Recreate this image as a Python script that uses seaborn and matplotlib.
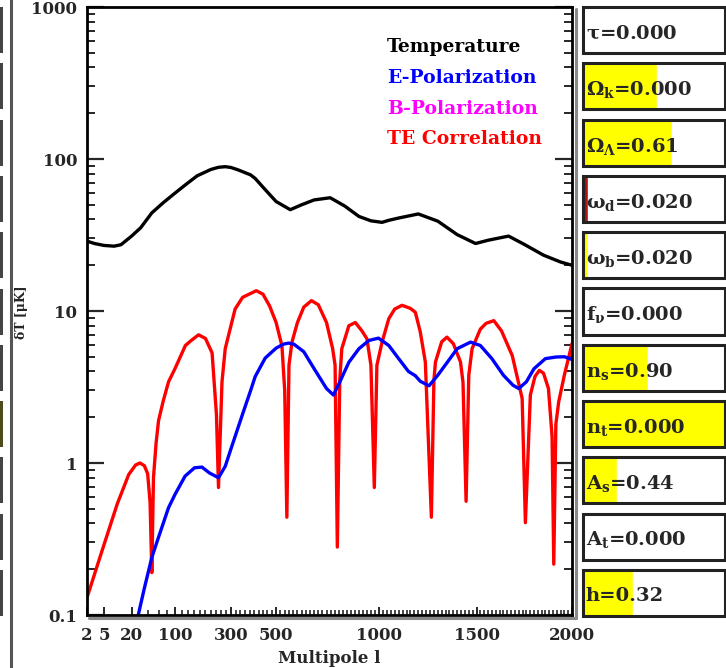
import numpy as np
import matplotlib
matplotlib.use("Agg")
import matplotlib.pyplot as plt
import seaborn as sns
from matplotlib.patches import Rectangle
from matplotlib.lines import Line2D
from matplotlib.ticker import FixedLocator, NullFormatter, LogLocator

# ============================================================
# DATA
# ============================================================

temp_l = [2, 3, 5, 8.5, 12, 20, 30, 47, 70, 100, 131, 170, 220, 250, 277, 300, 330, 385, 405,
          450, 500, 566, 620, 680, 758, 830, 900, 960, 1016, 1050, 1100, 1200, 1300,
          1400, 1495, 1560, 1667, 1750, 1850, 1940, 2000]
temp_v = [28.8, 27.8, 27.0, 26.7, 27.3, 31.1, 35.3, 44.2, 51.5, 59.6, 67.6, 77.5, 85.3, 88.2, 89.0, 88.0, 84.9, 78.6, 74.5,
          62.9, 52.5, 46.4, 50.0, 53.8, 55.6, 49.0, 41.9, 39.2, 38.3, 39.5, 40.9, 43.5, 39.0,
          31.8, 27.8, 29.2, 31.1, 27.4, 23.3, 21.0, 20.0]

epol_l = [27, 35, 47, 60, 83, 100, 130, 161, 187, 215, 250, 277, 300, 350, 385, 405,
          450, 500, 534, 558, 583, 630, 680, 740, 774, 800, 850, 900, 950, 998, 1050,
          1100, 1150, 1185, 1210, 1255, 1300, 1350, 1400, 1469, 1520, 1580, 1640,
          1690, 1720, 1760, 1800, 1860, 1916, 1960, 2000]
epol_v = [0.1, 0.15, 0.239, 0.325, 0.508, 0.62, 0.82, 0.93, 0.94, 0.86, 0.80, 0.95, 1.23, 2.1, 3.0, 3.7,
          4.9, 5.7, 6.05, 6.15, 6.05, 5.4, 4.17, 3.09, 2.80, 3.3, 4.6, 5.65, 6.4, 6.63, 5.93,
          4.86, 4.0, 3.75, 3.45, 3.22, 3.78, 4.62, 5.65, 6.24, 5.93, 4.86, 3.78,
          3.25, 3.09, 3.42, 4.17, 4.86, 4.98, 5.0, 4.8]

te_l = [2, 3, 5, 10, 17.5, 24, 29, 35, 40, 44, 47, 50, 55, 60, 70, 83, 100, 131, 150,
        175, 200, 225, 242, 250, 264, 277, 318, 350, 410, 440, 470, 500, 527, 540,
        550, 560, 574, 600, 630, 667, 700, 740, 770, 782, 793, 805, 815, 850, 882,
        915, 940, 960, 977, 990, 1016, 1050, 1080, 1117, 1160, 1185, 1210, 1236,
        1267, 1280, 1288, 1320, 1347, 1380, 1417, 1430, 1446, 1460, 1477, 1520,
        1550, 1590, 1630, 1686, 1710, 1738, 1755, 1781, 1805, 1828, 1850, 1876,
        1895, 1904, 1915, 1930, 1960, 2000]
te_v = [0.13, 0.185, 0.29, 0.54, 0.84, 0.97, 1.0, 0.96, 0.85, 0.55, 0.19, 0.8, 1.35, 1.9, 2.54, 3.42, 4.17, 5.93, 6.4,
        6.97, 6.6, 5.3, 2.07, 0.69, 3.43, 5.65, 10.3, 12.3, 13.6, 12.9, 10.8, 8.4, 5.9, 3.0,
        0.44, 4.4, 6.24, 8.4, 10.6, 11.7, 11.0, 8.4, 5.65, 4.4, 0.28, 3.5, 5.65, 8.0, 8.4,
        7.4, 6.56, 4.4, 0.69, 4.4, 6.24, 8.9, 10.3, 10.9, 10.4, 9.8, 7.3, 4.62,
        0.44, 3.5, 4.62, 6.27, 6.73, 6.1, 4.62, 3.4, 0.56, 3.78, 5.65, 7.6,
        8.3, 8.64, 7.4, 5.1, 3.78, 2.66, 0.405, 2.8, 3.7, 4.07, 3.9, 3.09,
        1.5, 0.216, 1.8, 2.53, 3.8, 6.09]

xtick_values = [2, 5, 20, 100, 300, 500, 1000, 1500, 2000]
xtick_labels = ["2", "5", "20", "100", "300", "500", "1000", "1500", "2000"]
ytick_values = [0.1, 1, 10, 100, 1000]
ytick_labels = ["0.1", "1", "10", "100", "1000"]

legend_names = ["Temperature", "E-Polarization", "B-Polarization", "TE Correlation"]
legend_colors = ["black", "blue", "magenta", "red"]

param_names = [r"$\tau$", r"$\Omega_k$", r"$\Omega_\Lambda$", r"$\omega_d$", r"$\omega_b$",
               r"$f_\nu$", r"$n_s$", r"$n_t$", r"$A_s$", r"$A_t$", "h"]
param_values = ["0.000", "0.000", "0.61", "0.020", "0.020", "0.000", "0.90",
                "0.000", "0.44", "0.000", "0.32"]
slider_fill = [0.0, 0.52, 0.63, 0.035, 0.035, 0.0, 0.46, 1.0, 0.24, 0.0, 0.35]
slider_colors = ["#ffff00", "#ffff00", "#ffff00", "#b01010", "#ffff00", "#ffff00",
                 "#ffff00", "#ffff00", "#ffff00", "#ffff00", "#ffff00"]

# ============================================================
# STYLE
# ============================================================

sns.set_style("white")
plt.rcParams["font.family"] = ["DejaVu Serif", "DejaVu Sans"]
plt.rcParams["font.weight"] = "bold"
plt.rcParams["mathtext.fontset"] = "custom"
plt.rcParams["mathtext.rm"] = "DejaVu Serif:bold"
plt.rcParams["mathtext.it"] = "DejaVu Serif:bold"
plt.rcParams["mathtext.bf"] = "DejaVu Serif:bold"

W, H = 726, 668
fig = plt.figure(figsize=(W / 100, H / 100), dpi=100)

# multipole axis: log at low l, close to linear at high l
K = 0.00437
grid = np.logspace(-3, 4, 6000)


def l_forward(l):
    l = np.asarray(l, dtype=float)
    return np.log10(np.clip(l, 1e-3, None)) + K * l


def l_inverse(y):
    return np.interp(y, l_forward(grid), grid)


ax = fig.add_axes([87 / W, 1 - 615 / H, (572 - 87) / W, (615 - 7) / H])
ax.set_xscale("function", functions=(l_forward, l_inverse))
ax.set_yscale("log")

sns.lineplot(x=temp_l, y=temp_v, color="black", lw=2.4, estimator=None, sort=False, ax=ax)
sns.lineplot(x=te_l, y=te_v, color="red", lw=2.4, estimator=None, sort=False, ax=ax)
sns.lineplot(x=epol_l, y=epol_v, color="blue", lw=2.4, estimator=None, sort=False, ax=ax)

ax.set_xlim(2, 2000)
ax.set_ylim(0.1, 1000)

ax.xaxis.set_major_locator(FixedLocator(xtick_values))
ax.set_xticklabels(xtick_labels)
ax.xaxis.set_minor_locator(FixedLocator([v for v in range(40, 2001, 20) if v not in xtick_values]))
ax.xaxis.set_minor_formatter(NullFormatter())
ax.set_yticks(ytick_values, labels=ytick_labels)
ax.yaxis.set_minor_locator(LogLocator(base=10, subs=np.arange(2, 10), numticks=20))
ax.yaxis.set_minor_formatter(NullFormatter())

ax.tick_params(axis="y", which="major", direction="in", length=12, width=1.6,
               left=True, right=True, labelsize=12, pad=7)
ax.tick_params(axis="y", which="minor", direction="in", length=6, width=1.4,
               left=True, right=True)
ax.tick_params(axis="x", which="major", direction="in", length=6, width=1.4,
               bottom=True, top=False, labelsize=12, pad=9)
ax.tick_params(axis="x", which="minor", direction="in", length=3.5, width=1.2,
               bottom=True, top=False)

for s in ax.spines.values():
    s.set_color("black")
    s.set_linewidth(2)

ax.set_xlabel("Multipole l", fontsize=12, fontweight="bold", labelpad=4)
ax.set_ylabel("")
ax.grid(False)

for i, (name, col) in enumerate(zip(legend_names, legend_colors)):
    ax.text(0.619, 0.934 - i * 0.0505, name, color=col, fontsize=13.5,
            fontweight="bold", transform=ax.transAxes, ha="left", va="center")

fig.text(22 / W, 1 - 312 / H, "δT [μK]", rotation=90, fontsize=9,
         fontweight="bold", ha="center", va="center")

# gray shadow along right and bottom plot frame
fig.add_artist(Line2D([575.5 / W, 575.5 / W], [1 - 618 / H, 1 - 9 / H],
                      color="#8a8a8a", lw=2.2, transform=fig.transFigure))
fig.add_artist(Line2D([89 / W, 576 / W], [1 - 618 / H, 1 - 618 / H],
                      color="#8a8a8a", lw=2.2, transform=fig.transFigure))

# ============================================================
# PARAMETER SLIDER BOXES (right)
# ============================================================

axr = fig.add_axes([583 / W, 1 - 621 / H, 142 / W, 619 / H])
sns.barplot(x=slider_fill, y=param_names, hue=param_names, palette=slider_colors,
            orient="h", width=0.82, saturation=1, legend=False, ax=axr)
box_full = [1.0] * len(param_names)
sns.barplot(x=box_full, y=param_names, orient="h", width=0.82, fill=False,
            edgecolor="#222222", linewidth=2.2, ax=axr)
for p in axr.patches:
    p.set_clip_on(False)
axr.set_xlim(0, 1)
axr.set_ylim(len(param_names) - 0.5, -0.5)
axr.axis("off")

for i, (name, val) in enumerate(zip(param_names, param_values)):
    axr.text(0.02, i + 0.06, f"{name}={val}", fontsize=14, fontweight="bold",
             ha="left", va="center")

# cut-off neighbour panel on the far left
for i in range(len(param_names)):
    top = 7 + i * 56.3
    col = "#4d4a1c" if i == 7 else "#454545"
    fig.add_artist(Rectangle((0, 1 - (top + 46) / H), 3 / W, 46 / H,
                             facecolor=col, edgecolor="none", transform=fig.transFigure))
fig.add_artist(Line2D([10.5 / W, 10.5 / W], [0, 1], color="#555555", lw=2.2,
                      transform=fig.transFigure))

fig.savefig("out.png", dpi=100)
